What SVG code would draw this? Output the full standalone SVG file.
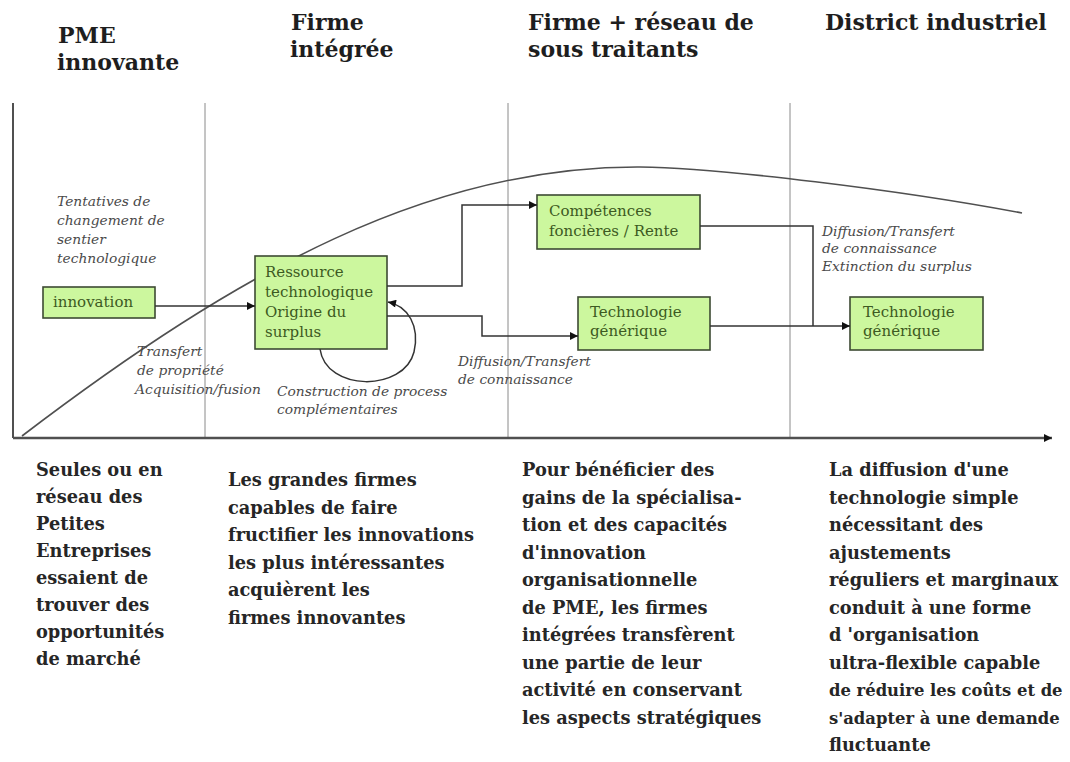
<svg xmlns="http://www.w3.org/2000/svg" width="1070" height="762" viewBox="0 0 1070 762">
  <style>
    .head { font-family: "DejaVu Serif", "Liberation Serif", serif; font-weight: bold; font-size: 22px; fill: #1e1e1e; }
    .body { font-family: "DejaVu Serif", "Liberation Serif", serif; font-weight: bold; font-size: 17.8px; fill: #262626; }
    .tight { font-size: 16.4px; }
    .note { font-family: "DejaVu Serif", "Liberation Serif", serif; font-style: italic; font-size: 13.8px; fill: #4a4a4a; }
    .box rect { fill: #ccf79e; stroke: #3d4a33; stroke-width: 1.6; }
    .box text { font-family: "DejaVu Serif", "Liberation Serif", serif; font-size: 15px; fill: #3d5a22; }
    .grid { stroke: #8a8a8a; stroke-width: 1; fill: none; }
    .axis { stroke: #505050; fill: none; }
    .link { stroke: #333; stroke-width: 1.5; fill: none; }
  </style>
  <defs>
    <marker id="arrow" viewBox="0 0 10 10" refX="10" refY="5" markerWidth="9" markerHeight="8" markerUnits="userSpaceOnUse" orient="auto">
      <path d="M0,0 L10,5 L0,10 z" fill="#111"/>
    </marker>
  </defs>

  <rect width="1070" height="762" fill="#ffffff"/>

  <!-- Phase headings -->
  <g id="headings">
    <text class="head" x="58" y="43">PME</text>
    <text class="head" x="57" y="70">innovante</text>
    <text class="head" x="291" y="30">Firme</text>
    <text class="head" x="290" y="57">intégrée</text>
    <text class="head" x="528" y="30">Firme + réseau de</text>
    <text class="head" x="528" y="57">sous traitants</text>
    <text class="head" x="825" y="30">District industriel</text>
  </g>

  <!-- Axes and phase dividers -->
  <g id="axes">
    <line class="axis" x1="13" y1="103" x2="13" y2="438" stroke-width="2"/>
    <line class="grid" x1="205" y1="103" x2="205" y2="438"/>
    <line class="grid" x1="508" y1="103" x2="508" y2="438"/>
    <line class="grid" x1="790" y1="103" x2="790" y2="438"/>
    <line class="axis" x1="13" y1="438" x2="1052" y2="438" stroke-width="2.5" marker-end="url(#arrow)"/>
    <path class="axis" stroke-width="1.6" d="M22,436 C240,270 430,166 640,167 C720,168 900,190 1022,213"/>
  </g>

  <!-- Nodes -->
  <g id="node-innovation" class="box">
    <rect x="43" y="287" width="112" height="31"/>
    <text x="53" y="307">innovation</text>
  </g>
  <g id="node-ressource" class="box">
    <rect x="255" y="256" width="132" height="93"/>
    <text x="265" y="277">Ressource</text>
    <text x="265" y="297">technologique</text>
    <text x="265" y="317">Origine du</text>
    <text x="265" y="337">surplus</text>
  </g>
  <g id="node-competences" class="box">
    <rect x="537" y="195" width="163" height="54"/>
    <text x="549" y="216">Compétences</text>
    <text x="549" y="236">foncières / Rente</text>
  </g>
  <g id="node-techno-1" class="box">
    <rect x="578" y="297" width="132" height="53"/>
    <text x="590" y="317">Technologie</text>
    <text x="590" y="336">générique</text>
  </g>
  <g id="node-techno-2" class="box">
    <rect x="850" y="297" width="133" height="53"/>
    <text x="863" y="317">Technologie</text>
    <text x="863" y="336">générique</text>
  </g>

  <!-- Connectors -->
  <g id="connectors">
    <path class="link" d="M155,306 H255" marker-end="url(#arrow)"/>
    <path class="link" d="M387,286 H462 V205 H537" marker-end="url(#arrow)"/>
    <path class="link" d="M387,316 H482 V336 H578" marker-end="url(#arrow)"/>
    <path class="link" d="M320,349 C326,392 404,392 414,352 C420,326 408,306 388,302" marker-end="url(#arrow)"/>
    <path class="link" d="M710,326 H850" marker-end="url(#arrow)"/>
    <path class="link" d="M700,226 H813 V326"/>
  </g>

  <!-- Connector annotations -->
  <g id="annotations">
    <text class="note" x="57" y="206">Tentatives de</text>
    <text class="note" x="57" y="225">changement de</text>
    <text class="note" x="57" y="244">sentier</text>
    <text class="note" x="57" y="263">technologique</text>
    <text class="note" x="137" y="356">Transfert</text>
    <text class="note" x="137" y="375">de propriété</text>
    <text class="note" x="135" y="394">Acquisition/fusion</text>
    <text class="note" x="277" y="396">Construction de process</text>
    <text class="note" x="277" y="414">complémentaires</text>
    <text class="note" x="458" y="366">Diffusion/Transfert</text>
    <text class="note" x="458" y="384">de connaissance</text>
    <text class="note" x="822" y="236">Diffusion/Transfert</text>
    <text class="note" x="822" y="253">de connaissance</text>
    <text class="note" x="822" y="271">Extinction  du surplus</text>
  </g>

  <!-- Phase descriptions -->
  <g id="descriptions">
    <text class="body">
      <tspan x="36" y="476">Seules ou en</tspan>
      <tspan x="36" y="503">réseau des</tspan>
      <tspan x="36" y="530">Petites</tspan>
      <tspan x="36" y="557">Entreprises</tspan>
      <tspan x="36" y="584">essaient de</tspan>
      <tspan x="36" y="611">trouver des</tspan>
      <tspan x="36" y="638">opportunités</tspan>
      <tspan x="36" y="665">de marché</tspan>
    </text>
    <text class="body">
      <tspan x="228" y="486">Les grandes firmes</tspan>
      <tspan x="228" y="513.5">capables de faire</tspan>
      <tspan x="228" y="541">fructifier les innovations</tspan>
      <tspan x="228" y="568.5">les plus intéressantes</tspan>
      <tspan x="228" y="596">acquièrent les</tspan>
      <tspan x="228" y="623.5">firmes innovantes</tspan>
    </text>
    <text class="body">
      <tspan x="522" y="476">Pour bénéficier des</tspan>
      <tspan x="522" y="503.5">gains de la spécialisa-</tspan>
      <tspan x="522" y="531">tion et des capacités</tspan>
      <tspan x="522" y="558.5">d'innovation</tspan>
      <tspan x="522" y="586">organisationnelle</tspan>
      <tspan x="522" y="613.5">de PME, les firmes</tspan>
      <tspan x="522" y="641">intégrées transfèrent</tspan>
      <tspan x="522" y="668.5">une partie de leur</tspan>
      <tspan x="522" y="696">activité en conservant</tspan>
      <tspan x="522" y="723.5">les aspects stratégiques</tspan>
    </text>
    <text class="body">
      <tspan x="829" y="476">La diffusion d'une</tspan>
      <tspan x="829" y="503.5">technologie simple</tspan>
      <tspan x="829" y="531">nécessitant des</tspan>
      <tspan x="829" y="558.5">ajustements</tspan>
      <tspan x="829" y="586">réguliers et marginaux</tspan>
      <tspan x="829" y="613.5">conduit à une forme</tspan>
      <tspan x="829" y="641">d 'organisation</tspan>
      <tspan x="829" y="668.5">ultra-flexible capable</tspan>
      <tspan class="tight" x="829" y="696">de réduire les coûts et de</tspan>
      <tspan class="tight" x="829" y="723.5">s'adapter à une demande</tspan>
      <tspan x="829" y="751">fluctuante</tspan>
    </text>
  </g>
</svg>
